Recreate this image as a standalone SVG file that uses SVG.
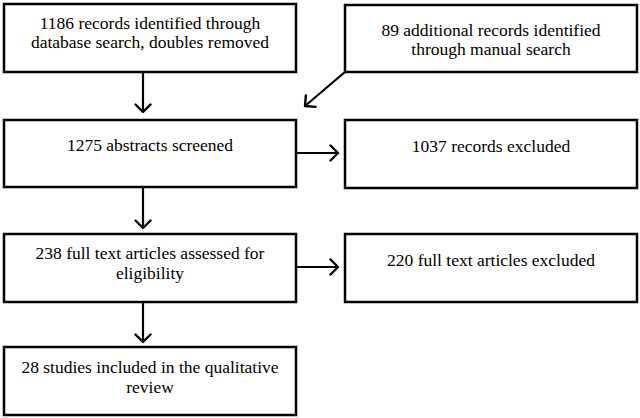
<svg xmlns="http://www.w3.org/2000/svg" width="640" height="418" viewBox="0 0 640 418">
<style>
.box{fill:#fff;stroke:#000;stroke-width:2.5}
.t{font-family:"Liberation Serif","Times New Roman",serif;font-size:17.5px;fill:#000;text-anchor:middle}
.c{stroke:#000;stroke-width:2.2;fill:none;marker-end:url(#arr)}
</style>
<defs>
<marker id="arr" viewBox="0 0 18 18" refX="16.5" refY="9" markerWidth="18" markerHeight="18" markerUnits="userSpaceOnUse" orient="auto">
<path d="M9,1.5 L16.5,9 L9,16.5" fill="none" stroke="#000" stroke-width="2.4" stroke-linecap="round" stroke-linejoin="round"/>
</marker>
</defs>
<rect width="640" height="418" fill="#fff"/>
<g id="n1"><rect class="box" x="4" y="4" width="292" height="68"/><text class="t" x="150" y="29">1186 records identified through</text><text class="t" x="150" y="48">database search, doubles removed</text></g>
<g id="n2"><rect class="box" x="345" y="5" width="292" height="67"/><text class="t" x="491" y="36">89 additional records identified</text><text class="t" x="491" y="55">through manual search</text></g>
<g id="n3"><rect class="box" x="4" y="120" width="292" height="67"/><text class="t" x="150" y="151">1275 abstracts screened</text></g>
<g id="n4"><rect class="box" x="345" y="120" width="292" height="68"/><text class="t" x="491" y="152">1037 records excluded</text></g>
<g id="n5"><rect class="box" x="4" y="234" width="292" height="68"/><text class="t" x="150" y="259">238 full text articles assessed for</text><text class="t" x="150" y="279">eligibility</text></g>
<g id="n6"><rect class="box" x="345" y="234" width="292" height="68"/><text class="t" x="491" y="266">220 full text articles excluded</text></g>
<g id="n7"><rect class="box" x="4" y="347" width="292" height="68"/><text class="t" x="150" y="373">28 studies included in the qualitative</text><text class="t" x="150" y="393">review</text></g>
<g id="connectors">
<line class="c" x1="143" y1="72" x2="143" y2="112"/>
<line class="c" x1="345" y1="72" x2="305" y2="106"/>
<line class="c" x1="296" y1="153" x2="338" y2="153"/>
<line class="c" x1="143" y1="187" x2="143" y2="228"/>
<line class="c" x1="296" y1="267" x2="338" y2="267"/>
<line class="c" x1="143" y1="302" x2="143" y2="342"/>
</g>
</svg>
